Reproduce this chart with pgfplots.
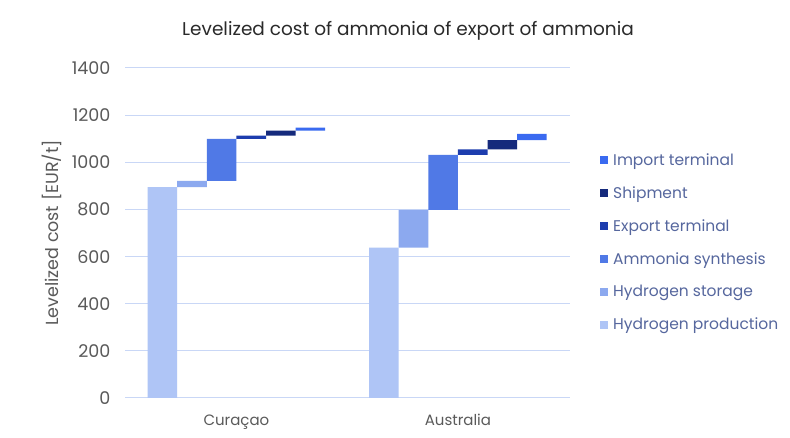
\documentclass[border=0pt]{standalone}
\usepackage{pgfplots}
\pgfplotsset{compat=1.18}
\usepackage{pgfplotstable}
\usepackage{fontspec}
\setmainfont{Poppins}
\definecolor{cprod}{HTML}{AFC5F6}
\definecolor{cstor}{HTML}{8CA9EF}
\definecolor{csyn}{HTML}{5079E6}
\definecolor{cexp}{HTML}{1D3DAE}
\definecolor{cship}{HTML}{152A7C}
\definecolor{cimp}{HTML}{3A6AF0}
\definecolor{gridc}{HTML}{C9D7F6}
\definecolor{txt}{HTML}{5A5A5A}
\definecolor{legtxt}{HTML}{56679E}
\definecolor{ttl}{HTML}{2A2A2A}

\pgfplotstableread{
x base prod stor syn exp ship imp
-0.334 0 895 0 0 0 0 0
-0.2004 895 0 26 0 0 0 0
-0.0668 921 0 0 178 0 0 0
0.0668 1099 0 0 0 14 0 0
0.2004 1113 0 0 0 0 21 0
0.334 1134 0 0 0 0 0 13
0.666 0 638 0 0 0 0 0
0.7996 638 0 160 0 0 0 0
0.9332 798 0 0 233 0 0 0
1.0668 1031 0 0 0 24 0 0
1.2004 1055 0 0 0 0 39 0
1.334 1094 0 0 0 0 0 27
}\data

\begin{document}
\begin{tikzpicture}[x=1pt,y=1pt]
\path[use as bounding box, fill=white] (0,0) rectangle (790,438);
\node[text=ttl, font=\fontsize{18.5}{20}\selectfont] at (408,407) {Levelized cost of ammonia of export of ammonia};
\begin{axis}[
  at={(125pt,40pt)}, anchor=south west,
  scale only axis, width=445pt, height=330pt,
  xmin=-0.503, xmax=1.506, ymin=0, ymax=1400,
  ybar stacked, bar width=0.1336,
  axis line style={draw=none},
  tick style={draw=none},
  ymajorgrids, grid style={gridc, line width=1pt},
  xtick={0,1}, xticklabels={Curaçao, Australia},
  ytick={0,200,...,1400},
  /pgf/number format/assume math mode=true,
  /pgf/number format/1000 sep={},
  ticklabel style={text=txt},
  yticklabel style={font=\fontsize{17.5}{19}\selectfont, xshift=-11pt},
  xticklabel style={font=\fontsize{15}{17}\selectfont, yshift=-13pt},
  ylabel={Levelized cost [EUR/t]},
  ylabel style={text=txt, font=\fontsize{17.5}{19}\selectfont, yshift=3pt},
  legend style={at={(1,0.471)}, anchor=west, xshift=27pt, draw=none, fill=none,
    font=\fontsize{15.5}{17}\selectfont, text=legtxt, row sep=15.6pt, column sep=3pt},
  legend cell align=left,
  reverse legend,
  legend image code/.code={\fill[#1] (0pt,-4pt) rectangle (8pt,4pt);},
]
\addplot[fill=none, draw=none, forget plot] table[x=x, y=base]{\data};
\addplot[fill=cprod, draw=none] table[x=x, y=prod]{\data};
\addplot[fill=cstor, draw=none] table[x=x, y=stor]{\data};
\addplot[fill=csyn, draw=none] table[x=x, y=syn]{\data};
\addplot[fill=cexp, draw=none] table[x=x, y=exp]{\data};
\addplot[fill=cship, draw=none] table[x=x, y=ship]{\data};
\addplot[fill=cimp, draw=none] table[x=x, y=imp]{\data};
\legend{Hydrogen production, Hydrogen storage, Ammonia synthesis, Export terminal, Shipment, Import terminal}
\end{axis}
\end{tikzpicture}
\end{document}
